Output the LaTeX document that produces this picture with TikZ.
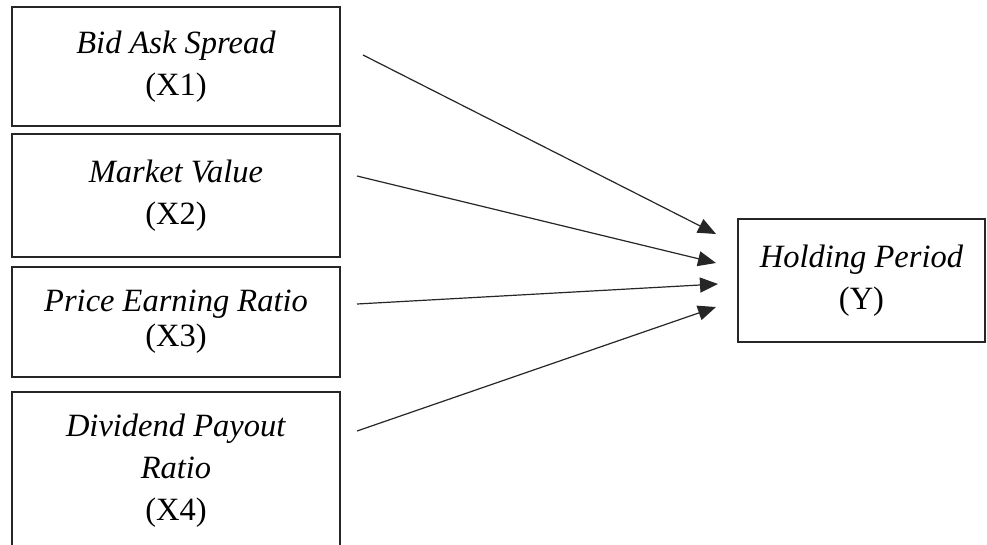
\documentclass[tikz,border=0pt]{standalone}
\usepackage{fontspec}
\setmainfont{Liberation Serif}
\usetikzlibrary{arrows.meta}
\tikzset{
  varbox/.style={draw=black!85, line width=2.4pt, rectangle, inner sep=0pt, align=center,
    font=\fontsize{32.5}{42}\selectfont},
  link/.style={draw=black!85, line width=1.2pt, -{Triangle[length=18pt,width=15pt]}}
}
\begin{document}
\begin{tikzpicture}[x=1pt,y=-1pt]
\useasboundingbox (0,0) rectangle (987,544);
\clip (0,0) rectangle (987,544);
\fill[white] (0,0) rectangle (987,544);
\node[varbox, minimum width=328pt, minimum height=119pt] (x1) at (176,66.5) {\textit{Bid Ask Spread}\\(X1)};
\node[varbox, minimum width=328pt, minimum height=123pt] (x2) at (176,195.5) {\textit{Market Value}\\(X2)};
\node[varbox, minimum width=328pt, minimum height=110pt] (x3) at (176,322) {\textit{Price Earning Ratio}\\[-7pt](X3)};
\node[varbox, minimum width=328pt, minimum height=158pt] (x4) at (176,471) {\textit{Dividend Payout}\\\textit{Ratio}\\(X4)};
\node[varbox, minimum width=247pt, minimum height=123pt] (y) at (861.5,280.5) {\textit{Holding Period}\\(Y)};
\coordinate (s1) at (363,55);
\coordinate (s2) at (357,176);
\coordinate (s3) at (357,304);
\coordinate (s4) at (357,431);
\coordinate (e1) at (716,234);
\coordinate (e2) at (716,263);
\coordinate (e3) at (718,284);
\coordinate (e4) at (716,307);
\draw[link] (s1) -- (e1);
\draw[link] (s2) -- (e2);
\draw[link] (s3) -- (e3);
\draw[link] (s4) -- (e4);
\end{tikzpicture}
\end{document}
